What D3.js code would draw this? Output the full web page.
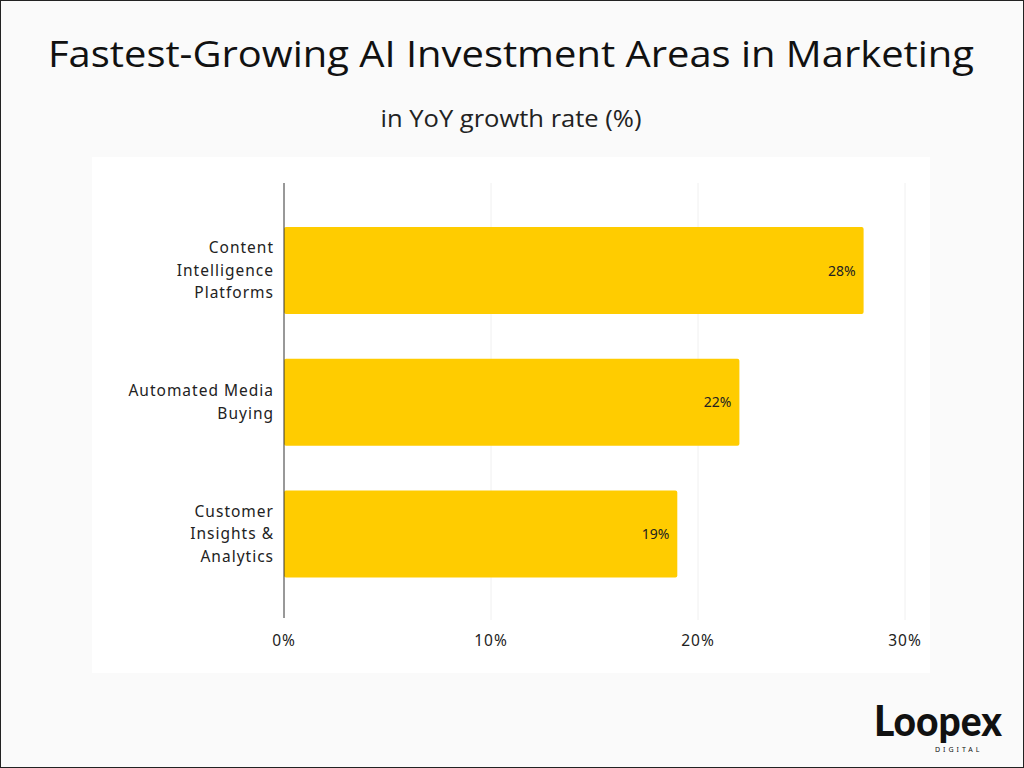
<!DOCTYPE html>
<html lang="en">
<head>
<meta charset="UTF-8">
<title>Fastest-Growing AI Investment Areas in Marketing</title>
<style>
    body { margin: 0; background: #fff; }
    svg { display: block; font-family: "Noto Sans", sans-serif; }
</style>
</head>
<body>
<div id="chart"></div>
<script src="https://d3js.org/d3.v7.min.js"></script>
<script>
    // Values
    var data = [
        { area: ["Content", "Intelligence", "Platforms"], value: 28 },
        { area: ["Automated Media", "Buying"], value: 22 },
        { area: ["Customer", "Insights &", "Analytics"], value: 19 }
    ];

    var W = 1024, H = 768;
    var svg = d3.select("#chart").append("svg").attr("width", W).attr("height", H);

    svg.append("rect").attr("x", 0.5).attr("y", 0.5).attr("width", W - 1).attr("height", H - 1)
        .attr("fill", "#fafafa").attr("stroke", "#222");

    svg.append("text").attr("x", 511).attr("y", 67).attr("text-anchor", "middle")
        .attr("font-family", "'Open Sans', sans-serif").attr("font-size", 36).attr("fill", "#111")
        .attr("textLength", 926).attr("lengthAdjust", "spacingAndGlyphs")
        .text("Fastest-Growing AI Investment Areas in Marketing");
    svg.append("text").attr("x", 511).attr("y", 127).attr("text-anchor", "middle")
        .attr("font-family", "'Open Sans', sans-serif").attr("font-size", 23).attr("fill", "#222")
        .attr("textLength", 261).attr("lengthAdjust", "spacingAndGlyphs")
        .text("in YoY growth rate (%)");

    // plot panel
    svg.append("rect").attr("x", 92).attr("y", 157).attr("width", 838).attr("height", 516).attr("fill", "#fff");

    var x = d3.scaleLinear().domain([0, 30]).range([284, 905]);
    var y = d3.scaleBand().domain(d3.range(data.length)).range([183, 621.6]).paddingInner(0.34).paddingOuter(0.334);

    // gridlines
    svg.append("g").selectAll("line").data([10, 20, 30]).enter().append("line")
        .attr("x1", d => x(d)).attr("x2", d => x(d)).attr("y1", 183).attr("y2", 620)
        .attr("stroke", "#f0f0f0");

    svg.append("g").selectAll("rect").data(data).enter().append("rect")
        .attr("x", x(0)).attr("y", (d, i) => y(i))
        .attr("width", d => x(d.value) - x(0)).attr("height", y.bandwidth())
        .attr("rx", 2).attr("fill", "#ffcc00");

    svg.append("g").selectAll("text").data(data).enter().append("text")
        .attr("x", d => x(d.value) - 8).attr("y", (d, i) => y(i) + y.bandwidth() / 2 + 5)
        .attr("text-anchor", "end").attr("font-size", 14).attr("fill", "#222")
        .text(d => d.value + "%");

    // category labels
    data.forEach(function (d, i) {
        var n = d.area.length, cy = y(i) + y.bandwidth() / 2;
        d.area.forEach(function (line, j) {
            svg.append("text").attr("x", 274).attr("y", cy + (j - (n - 1) / 2) * 22.5 + 5)
                .attr("text-anchor", "end").attr("font-size", 15.5).attr("letter-spacing", 1)
                .attr("fill", "#222").text(line);
        });
    });

    svg.append("line").attr("x1", x(0)).attr("x2", x(0)).attr("y1", 183).attr("y2", 618)
        .attr("stroke", "#333");

    svg.append("g").selectAll("text").data([0, 10, 20, 30]).enter().append("text")
        .attr("x", d => x(d)).attr("y", 646).attr("text-anchor", "middle")
        .attr("font-size", 15.5).attr("letter-spacing", 1).attr("fill", "#222")
        .text(d => d + "%");

    // logo
    svg.append("text").attr("x", 874).attr("y", 736).attr("font-family", "Lato, sans-serif")
        .attr("font-weight", 900).attr("font-size", 42).attr("fill", "#111")
        .attr("textLength", 128).attr("lengthAdjust", "spacingAndGlyphs").text("Loopex");
    svg.append("text").attr("x", 935).attr("y", 752).attr("font-size", 7).attr("letter-spacing", 3)
        .attr("fill", "#111").text("DIGITAL");
</script>
</body>
</html>
